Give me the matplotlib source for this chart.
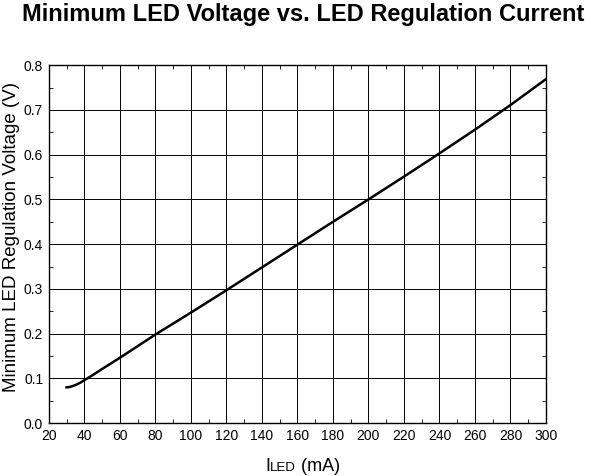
import matplotlib
matplotlib.use("Agg")
import matplotlib.pyplot as plt
from matplotlib.offsetbox import TextArea, HPacker, AnnotationBbox
from matplotlib.ticker import MultipleLocator

current_ma = [30, 32, 35, 38, 40, 45, 50, 60, 70, 80, 100, 120, 140, 160, 180, 200, 220, 240, 260, 280, 300]
voltage_v = [0.080, 0.081, 0.085, 0.091, 0.096, 0.108, 0.121, 0.146, 0.172, 0.198, 0.247, 0.297, 0.348, 0.399, 0.450, 0.500, 0.551, 0.603, 0.656, 0.711, 0.769]

xticks = list(range(20, 301, 20))
yticks = [0.0, 0.1, 0.2, 0.3, 0.4, 0.5, 0.6, 0.7, 0.8]

plt.rcParams['font.family'] = ['Liberation Sans', 'DejaVu Sans']

fig = plt.figure(figsize=(6.02, 4.76), dpi=100)
ax = fig.add_axes([0.081, 0.111, 0.826, 0.752])

ax.plot(current_ma, voltage_v, color='black', linewidth=1.8)
ax.set_xlim(20, 300)
ax.set_ylim(0, 0.8)
ax.set_xticks(xticks)
ax.set_yticks(yticks)
ax.set_yticklabels([f"{v:.1f}" for v in yticks])
ax.xaxis.set_minor_locator(MultipleLocator(10))
ax.yaxis.set_minor_locator(MultipleLocator(0.05))
ax.grid(True, which='major', color='black', linewidth=0.7)
ax.tick_params(axis='both', which='major', labelsize=10, direction='in', length=0, pad=4, top=True, right=True)
ax.tick_params(axis='both', which='minor', direction='in', length=3, width=0.6, top=True, right=True)
for s in ax.spines.values():
    s.set_linewidth(1.0)
    s.set_color('black')

ax.set_ylabel('Minimum LED Regulation Voltage (V)', fontsize=13.5)
ax.yaxis.set_label_coords(-0.058, 0.521)

fig.text(0.503, 0.956, 'Minimum LED Voltage vs. LED Regulation Current', fontsize=17,
         fontweight='bold', ha='center', va='baseline')

label = HPacker(children=[TextArea("I", textprops=dict(size=13)),
                          TextArea("LED", textprops=dict(size=9.5)),
                          TextArea(" (mA)", textprops=dict(size=13))],
                align="baseline", pad=0, sep=0)
ab = AnnotationBbox(label, (0.503, 0.003), xycoords='figure fraction', frameon=False, box_alignment=(0.5, 0.0))
fig.add_artist(ab)

fig.savefig('out.png', dpi=100)
